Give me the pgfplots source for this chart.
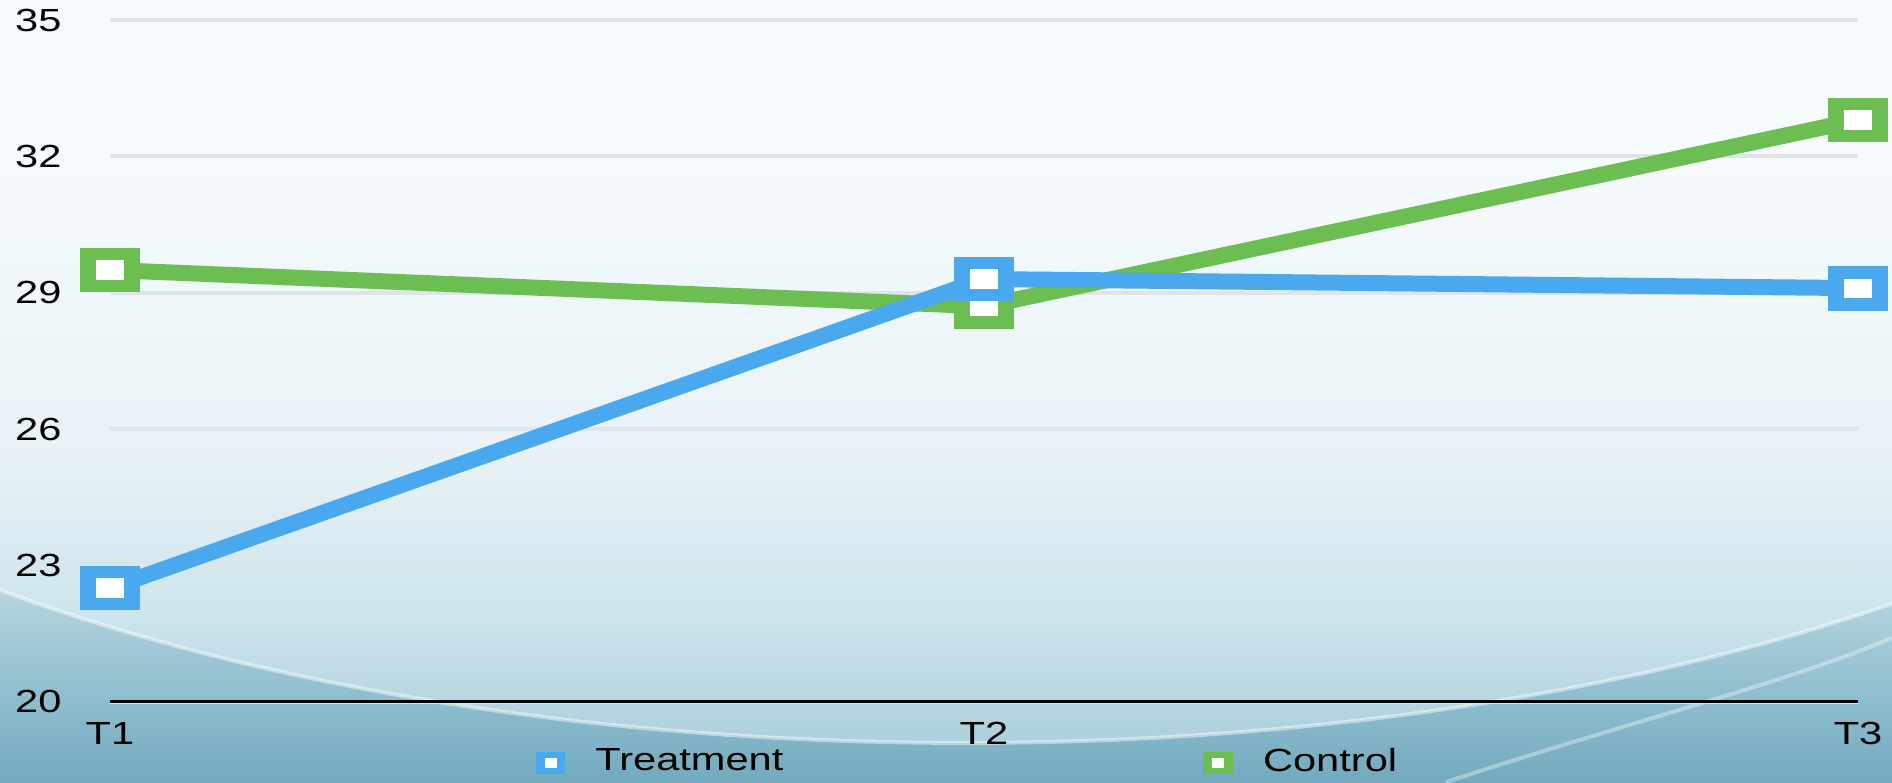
\documentclass[border=0pt]{standalone}
\usepackage{pgfplots}
\pgfplotsset{compat=1.18}
\usepackage{fontspec}
\setmainfont{Liberation Sans}[FakeStretch=1.3]
\definecolor{treat}{RGB}{74,168,238}
\definecolor{ctrl}{RGB}{108,190,82}
\definecolor{gridc}{RGB}{222,228,231}
\definecolor{bgtop}{RGB}{246,251,253}
\definecolor{bgmid}{RGB}{225,238,243}
\definecolor{bglow}{RGB}{178,210,222}
\definecolor{bglow2}{RGB}{140,188,205}
\definecolor{bgbot}{RGB}{115,170,190}
\definecolor{elbot}{RGB}{172,208,220}
\definecolor{elmid}{RGB}{203,227,235}
\definecolor{elhi}{RGB}{232,242,246}
\pgfdeclareverticalshading{bgshade}{100bp}{color(0bp)=(bgbot); color(25bp)=(bgbot); color(30bp)=(bglow2); color(36.5bp)=(bglow); color(45bp)=(bgmid); color(75bp)=(bgtop); color(100bp)=(bgtop)}
\pgfdeclareverticalshading{elshade}{100bp}{color(0bp)=(elbot); color(25bp)=(elbot); color(30bp)=(elmid); color(37bp)=(elhi); color(50bp)=(bgtop); color(100bp)=(bgtop)}
\pgfdeclareplotmark{wrect}{%
  \pgfpathrectangle{\pgfpoint{-7.6pt}{-5.6pt}}{\pgfpoint{15.2pt}{11.2pt}}\pgfusepathqfill
  \begin{pgfscope}%
  \pgfsetfillcolor{white}%
  \pgfpathrectangle{\pgfpoint{-3.4pt}{-2.4pt}}{\pgfpoint{6.8pt}{4.8pt}}\pgfusepathqfill
  \end{pgfscope}}
\pgfplotstableread{
x y
0 22.5
1 29.3
2 29.1
}\treattable
\pgfplotstableread{
x y
0 29.5
1 28.7
2 32.8
}\ctrltable
\begin{document}
\begin{tikzpicture}
\shade[shading=bgshade] (-27.5pt,-20.075pt) rectangle (445.5pt,175.425pt);
\begin{scope}
\clip (-27.5pt,-20.075pt) rectangle (445.5pt,175.425pt);
\shade[shading=elshade] (213.75pt,139.7pt) ellipse [x radius=361.75pt, y radius=150pt];
\draw[white, opacity=0.45, line width=1pt] (213.75pt,139.7pt) ellipse [x radius=361.75pt, y radius=150pt];
\draw[white, opacity=0.35, line width=1pt] (334pt,-20.075pt) .. controls (380pt,-5pt) and (420pt,5pt) .. (445.5pt,16pt);
\end{scope}
\begin{axis}[
  at={(0pt,0pt)}, anchor=south west,
  scale only axis, width=437pt, height=170.425pt,
  xmin=0, xmax=2, ymin=20, ymax=35,
  clip=false,
  axis x line*=bottom, axis y line*=left,
  x axis line style={black, line width=0.75pt, -},
  y axis line style={draw=none},
  xtick={0,1,2}, xticklabels={T1,T2,T3},
  ytick={20,23,26,29,32,35},
  major tick length=0pt,
  ymajorgrids, grid style={gridc, line width=1pt},
  /pgf/number format/assume math mode=true,
  ticklabel style={font=\fontsize{8pt}{9.6pt}\selectfont, text=black},
  xticklabel style={anchor=north, inner sep=0pt, yshift=-5pt},
  yticklabel style={anchor=west, inner sep=0pt, xshift=-23.9pt},
  legend style={at={(axis description cs:0,0)}, anchor=west, xshift=106.25pt, yshift=-15.3pt,
    draw=none, fill=none, inner sep=0pt, column sep=0pt,
    nodes={inner sep=0pt, font=\fontsize{8pt}{9.6pt}\selectfont},
    /tikz/every odd column/.append style={column sep=7.5pt},
    /tikz/every even column/.append style={column sep=105pt}},
  legend columns=2,
  legend image code/.code={\fill[#1] (0pt,-2.5pt) rectangle (7pt,2.5pt); \fill[white] (2.2pt,-1pt) rectangle (4.8pt,1pt);},
]
\addlegendimage{treat}
\addlegendentry{Treatment}
\addlegendimage{ctrl}
\addlegendentry{Control}
\addplot[ctrl, line width=4pt, mark=wrect, forget plot] table[x=x, y=y] {\ctrltable};
\addplot[treat, line width=4pt, mark=wrect, forget plot] table[x=x, y=y] {\treattable};
\end{axis}
\pgfresetboundingbox
\path[use as bounding box] (-27.5pt,-20.075pt) rectangle (445.5pt,175.425pt);
\end{tikzpicture}
\end{document}
